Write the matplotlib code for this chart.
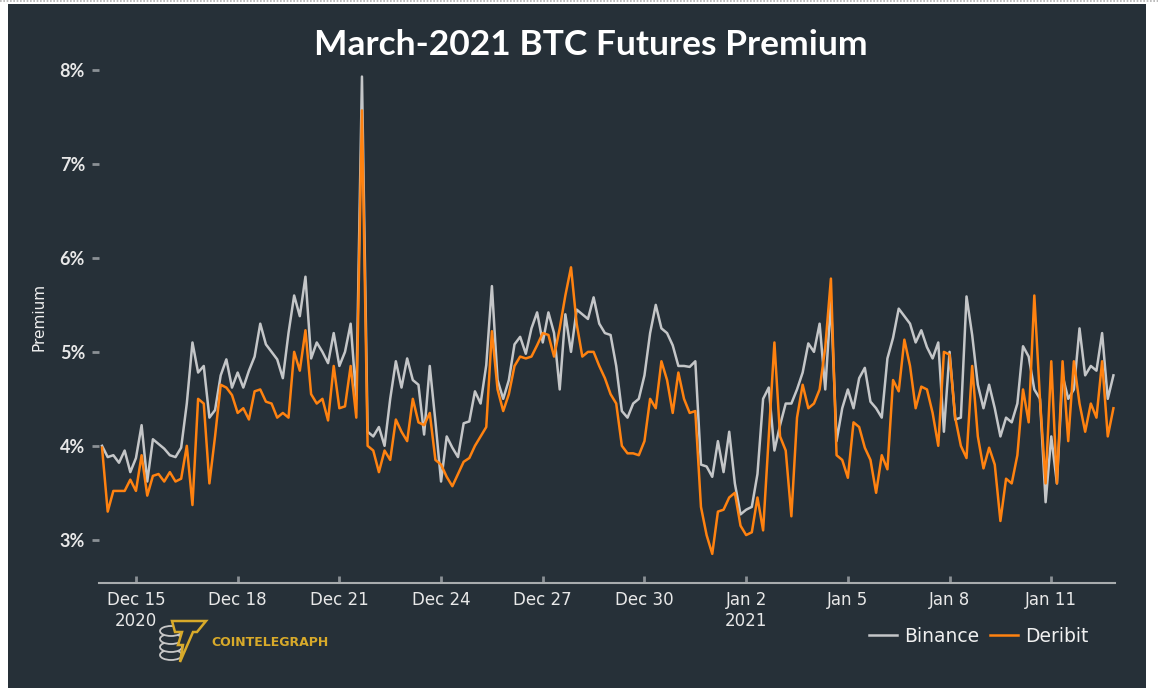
import numpy as np
import pandas as pd
import matplotlib
matplotlib.use("Agg")
import matplotlib.pyplot as plt
import matplotlib.dates as mdates
from matplotlib.patches import Rectangle, Ellipse, Polygon
from matplotlib.lines import Line2D

# ---------------- data (4-hourly, from 2020-12-14 00:00) ----------------
start = "2020-12-14 00:00"
binance = [
    4.0, 3.88, 3.9, 3.82, 3.95, 3.72, 3.87, 4.22, 3.62, 4.07,
    4.02, 3.97, 3.9, 3.88, 3.98, 4.45, 5.1, 4.78, 4.85, 4.3,
    4.38, 4.75, 4.92, 4.62, 4.78, 4.62, 4.8, 4.95, 5.3, 5.08,
    5.0, 4.92, 4.72, 5.2, 5.6, 5.38, 5.8, 4.93, 5.1, 5.0,
    4.88, 5.2, 4.85, 5.0, 5.3, 4.5, 7.93, 4.15, 4.1, 4.2,
    4.0, 4.5, 4.9, 4.62, 4.93, 4.7, 4.65, 4.12, 4.85, 4.26,
    3.62, 4.1, 3.98, 3.88, 4.24, 4.26, 4.58, 4.45, 4.86, 5.7,
    4.7, 4.5, 4.7, 5.08, 5.16, 4.98, 5.25, 5.42, 5.1, 5.42,
    5.2, 4.6, 5.4, 5.0, 5.45, 5.4, 5.35, 5.58, 5.3, 5.2,
    5.18, 4.85, 4.37, 4.3, 4.45, 4.5, 4.75, 5.2, 5.5, 5.25,
    5.2, 5.07, 4.85, 4.85, 4.84, 4.9, 3.8, 3.78, 3.67, 4.05,
    3.72, 4.15, 3.6, 3.27, 3.32, 3.35, 3.7, 4.5, 4.62, 3.95,
    4.22, 4.45, 4.45, 4.6, 4.78, 5.09, 5.0, 5.3, 4.6, 5.55,
    4.05, 4.4, 4.6, 4.4, 4.72, 4.83, 4.47, 4.4, 4.3, 4.93,
    5.15, 5.46, 5.38, 5.3, 5.1, 5.23, 5.05, 4.93, 5.1, 4.15,
    5.0, 4.28, 4.3, 5.59, 5.18, 4.65, 4.4, 4.65, 4.4, 4.1,
    4.3, 4.25, 4.45, 5.06, 4.95, 4.6, 4.5, 3.4, 4.1, 3.6,
    4.75, 4.5, 4.6, 5.25, 4.75, 4.85, 4.8, 5.2, 4.5, 4.75,
]
deribit = [
    3.98, 3.3, 3.52, 3.52, 3.52, 3.64, 3.52, 3.9, 3.47, 3.68,
    3.7, 3.62, 3.72, 3.62, 3.65, 4.0, 3.37, 4.5, 4.45, 3.6,
    4.1, 4.65, 4.62, 4.54, 4.35, 4.4, 4.28, 4.58, 4.6, 4.47,
    4.45, 4.3, 4.35, 4.3, 5.0, 4.8, 5.23, 4.55, 4.45, 4.5,
    4.27, 4.85, 4.4, 4.42, 4.85, 4.3, 7.57, 4.0, 3.95, 3.72,
    3.95, 3.85, 4.28, 4.15, 4.05, 4.5, 4.25, 4.22, 4.35, 3.85,
    3.8, 3.67, 3.57, 3.7, 3.83, 3.87, 4.0, 4.1, 4.2, 5.22,
    4.6, 4.37, 4.55, 4.85, 4.95, 4.93, 4.95, 5.07, 5.2, 5.18,
    4.95, 5.25, 5.6, 5.9, 5.3, 4.95, 5.0, 5.0, 4.85, 4.72,
    4.55, 4.45, 4.0, 3.92, 3.92, 3.9, 4.05, 4.5, 4.4, 4.9,
    4.7, 4.35, 4.78, 4.5, 4.35, 4.37, 3.35, 3.05, 2.85, 3.3,
    3.32, 3.45, 3.5, 3.15, 3.05, 3.08, 3.45, 3.1, 4.1, 5.1,
    4.1, 3.95, 3.25, 4.3, 4.65, 4.4, 4.45, 4.6, 5.05, 5.78,
    3.9, 3.85, 3.66, 4.25, 4.2, 3.98, 3.85, 3.5, 3.9, 3.75,
    4.7, 4.58, 5.13, 4.85, 4.4, 4.63, 4.6, 4.35, 4.0, 5.0,
    4.97, 4.3, 4.0, 3.87, 4.85, 4.1, 3.76, 3.98, 3.8, 3.2,
    3.65, 3.6, 3.9, 4.6, 4.25, 5.6, 4.5, 3.6, 4.9, 3.6,
    4.9, 4.05, 4.9, 4.45, 4.15, 4.45, 4.3, 4.9, 4.1, 4.4,
]
yticks = [3, 4, 5, 6, 7, 8]
ytick_labels = ["3%", "4%", "5%", "6%", "7%", "8%"]
xtick_dates = ["2020-12-15", "2020-12-18", "2020-12-21", "2020-12-24", "2020-12-27",
               "2020-12-30", "2021-01-02", "2021-01-05", "2021-01-08", "2021-01-11"]
xtick_labels = ["Dec 15\n2020", "Dec 18", "Dec 21", "Dec 24", "Dec 27",
                "Dec 30", "Jan 2\n2021", "Jan 5", "Jan 8", "Jan 11"]
title = "March-2021 BTC Futures Premium"
series_names = ["Binance", "Deribit"]

times = pd.date_range(start, periods=len(binance), freq="4h")

BG = "#263038"
GOLD = "#d8aa2a"
W, H = 1158, 698
fig = plt.figure(figsize=(W / 100, H / 100), dpi=100, facecolor="white")
# dark panel
fig.patches.append(Rectangle((8 / W, 1 - 688 / H), (1146 - 8) / W, (688 - 4) / H,
                             transform=fig.transFigure, facecolor=BG, edgecolor="none", zorder=-10))
fig.lines.append(Line2D([0, 1], [1 - 1.2 / H, 1 - 1.2 / H], transform=fig.transFigure,
                        color="#b0b0b0", lw=1.2, ls=(0, (1, 1)), zorder=-9))

ax_l, ax_r, ax_b, ax_t = 99 / W, 1115 / W, 1 - 583 / H, 1 - 60.6 / H
ax = fig.add_axes([ax_l, ax_b, ax_r - ax_l, ax_t - ax_b])
ax.set_facecolor("none")

ax.plot(times, binance, color="#c4c6c8", lw=1.8, label=series_names[0], zorder=2)
ax.plot(times, deribit, color="#ff8210", lw=1.8, label=series_names[1], zorder=3)

d0 = pd.Timestamp("2020-12-15")
ax.set_xlim(mdates.date2num(d0 - pd.Timedelta(days=1.09)), mdates.date2num(d0 + pd.Timedelta(days=28.88)))
ax.set_ylim(2.54, 8.1)

for s in ["top", "right", "left"]:
    ax.spines[s].set_visible(False)
ax.spines["bottom"].set_color("#a8acae")
ax.spines["bottom"].set_linewidth(1.5)

ax.set_yticks(yticks)
ax.set_yticklabels(ytick_labels, fontsize=13, color="#e8e8e8", fontweight="bold", family="Lato")
ax.tick_params(axis="y", length=5, width=2, color="#8a9095", pad=5)

ax.set_xticks([mdates.date2num(pd.Timestamp(d)) for d in xtick_dates])
ax.set_xticklabels(xtick_labels, fontsize=12, color="#e8e8e8", family="DejaVu Sans")
ax.tick_params(axis="x", direction="in", length=5, width=2, color="#8a9095", pad=6)

ax.set_ylabel("Premium", color="#f0f0f0", fontsize=11, family="DejaVu Sans")
ax.yaxis.set_label_coords(-0.052, 0.51)

fig.text(0.51, 1 - 45 / H, title, ha="center", va="center", color="white",
         fontsize=25.5, family="Lato", fontweight="bold")

leg = fig.legend(loc="center right", bbox_to_anchor=(1105 / W, 1 - 636 / H), ncol=2,
                 frameon=False, handlelength=1.5, handletextpad=0.35,
                 columnspacing=0.6, prop={"family": "DejaVu Sans", "size": 13.5})
for t in leg.get_texts():
    t.set_color("#f0f0f0")

# logo
lax = fig.add_axes([156 / W, 1 - 664 / H, 54 / W, 46 / H])
lax.set_xlim(0, 54)
lax.set_ylim(0, 46)
lax.axis("off")
for yy in [9, 17, 25, 33]:
    lax.add_patch(Ellipse((15, yy), 22, 10, facecolor=BG, edgecolor="#c8c8c8", lw=1.3))
bolt = [(16, 43), (50, 43), (41, 32), (37, 32), (24, 2), (27, 19), (22, 19), (26, 32), (19, 32)]
lax.add_patch(Polygon(bolt, closed=True, facecolor=BG, edgecolor=GOLD, lw=1.8))
fig.text(211 / W, 1 - 642 / H, "COINTELEGRAPH",
         color=GOLD, fontsize=9, fontweight="bold", family="DejaVu Sans", va="center", ha="left")

fig.savefig("out.png", dpi=100, facecolor="white")
